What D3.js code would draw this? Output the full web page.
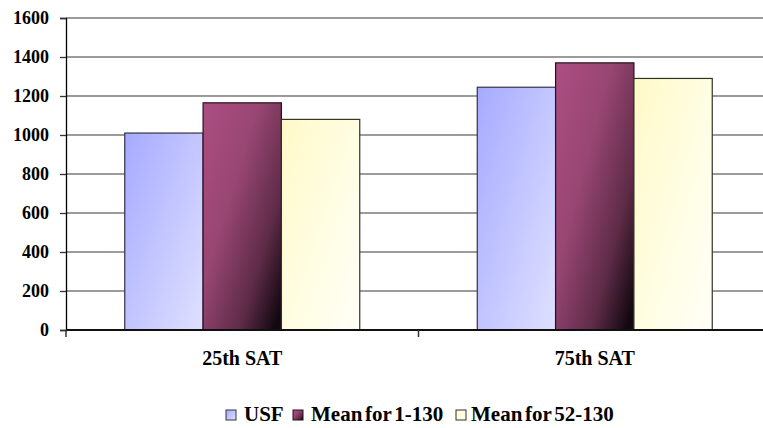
<!DOCTYPE html>
<html>
<head>
<meta charset="utf-8">
<script src="https://cdn.jsdelivr.net/npm/d3@7/dist/d3.min.js"></script>
<style>
  html, body { margin: 0; padding: 0; background: #fff; }
  svg { display: block; }
  text { font-family: "Liberation Serif", "Times New Roman", serif; font-weight: bold; fill: #000; }
</style>
</head>
<body>
<svg id="chart" width="763" height="428"></svg>
<script>
// SAT score comparison: USF versus two peer-group means
const categories = ["25th SAT", "75th SAT"];
const seriesNames = ["USF", "Mean for 1-130", "Mean for 52-130"];
const usfValues = [1010, 1245];
const mean1to130Values = [1165, 1370];
const mean52to130Values = [1080, 1290];
const yTicks = [0, 200, 400, 600, 800, 1000, 1200, 1400, 1600];

const seriesValues = [usfValues, mean1to130Values, mean52to130Values];

const svg = d3.select("#chart");
const W = 763, H = 428;
const plot = { left: 66, right: 771, top: 18, bottom: 330 };

// Gradient fills for each series
const defs = svg.append("defs");
const gradients = [
  { id: "g-usf", stops: [["0%", "#a6aaff"], ["55%", "#c4c7ff"], ["100%", "#dcdeff"]] },
  { id: "g-m130", stops: [["0%", "#ad4e82"], ["40%", "#984673"], ["75%", "#5e2b47"], ["100%", "#120810"]] },
  { id: "g-m52", stops: [["0%", "#fff9c8"], ["50%", "#fffde0"], ["100%", "#fffff6"]] }
];
gradients.forEach(g => {
  const lg = defs.append("linearGradient").attr("id", g.id)
    .attr("x1", "0").attr("y1", "0").attr("x2", "1").attr("y2", "0.9");
  g.stops.forEach(s => lg.append("stop").attr("offset", s[0]).attr("stop-color", s[1]));
});
const fills = gradients.map(g => `url(#${g.id})`);
const strokes = ["#333344", "#2a0f1e", "#333326"];

const x = d3.scaleBand().domain(categories).range([plot.left, plot.right]).paddingInner(0).paddingOuter(0);
const xs = d3.scaleBand().domain(seriesNames).range([0, x.bandwidth()]).paddingInner(0).paddingOuter(0.75);
const y = d3.scaleLinear().domain([0, 1600]).range([plot.bottom, plot.top]);

// Horizontal gridlines
svg.append("g").selectAll("line").data(yTicks.filter(t => t > 0)).join("line")
  .attr("x1", plot.left).attr("x2", W)
  .attr("y1", d => y(d)).attr("y2", d => y(d))
  .attr("stroke", "#7a7a7a").attr("stroke-width", 1.6);

// Bars
const groups = svg.append("g").selectAll("g").data(categories).join("g")
  .attr("transform", d => `translate(${x(d)},0)`);
groups.selectAll("rect")
  .data((c, ci) => seriesNames.map((s, si) => ({ s, si, v: seriesValues[si][ci] })))
  .join("rect")
  .attr("x", d => xs(d.s))
  .attr("width", xs.bandwidth())
  .attr("y", d => y(d.v))
  .attr("height", d => y(0) - y(d.v))
  .attr("fill", d => fills[d.si])
  .attr("stroke", d => strokes[d.si])
  .attr("stroke-width", 1.2);

// Y axis
const yAxis = d3.axisLeft(y).tickValues(yTicks).tickSize(6).tickPadding(11).tickFormat(d3.format("d"));
const gy = svg.append("g").attr("transform", `translate(${plot.left},0)`).call(yAxis);
gy.select(".domain").attr("stroke", "#000").attr("stroke-width", 1.3);
gy.selectAll(".tick line").attr("stroke", "#333").attr("stroke-width", 1.3);
gy.selectAll(".tick text").attr("font-size", 18).attr("font-family", "Liberation Serif, serif")
  .attr("font-weight", "bold").attr("fill", "#000");

// X axis baseline and category boundary ticks
svg.append("line").attr("x1", plot.left).attr("x2", W)
  .attr("y1", y(0)).attr("y2", y(0)).attr("stroke", "#111").attr("stroke-width", 2);
const boundaries = categories.map(c => x(c)).concat([plot.right]);
svg.append("g").selectAll("line").data(boundaries).join("line")
  .attr("x1", d => d).attr("x2", d => d)
  .attr("y1", y(0)).attr("y2", y(0) + 7)
  .attr("stroke", "#333").attr("stroke-width", 1.5);

// Category labels
svg.append("g").selectAll("text").data(categories).join("text")
  .attr("x", d => x(d) + x.bandwidth() / 2)
  .attr("y", 365)
  .attr("text-anchor", "middle")
  .attr("font-size", 20)
  .text(d => d);

// Legend
const legendItems = [
  { name: seriesNames[0], box: 226, text: 244 },
  { name: seriesNames[1], box: 293, text: 311 },
  { name: seriesNames[2], box: 456, text: 471 }
];
const lg = svg.append("g");
legendItems.forEach((it, i) => {
  lg.append("rect").attr("x", it.box).attr("y", 410).attr("width", 10).attr("height", 10)
    .attr("fill", fills[i]).attr("stroke", strokes[i]).attr("stroke-width", 1);
  lg.append("text").attr("x", it.text).attr("y", 421).attr("font-size", 21)
    .attr("word-spacing", "-2.5").text(it.name);
});
</script>
</body>
</html>
